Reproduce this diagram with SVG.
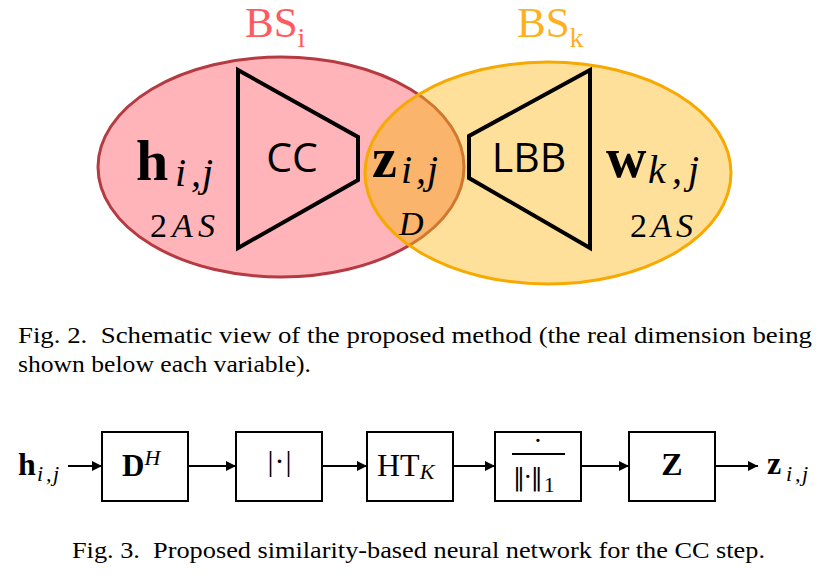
<svg xmlns="http://www.w3.org/2000/svg" width="832" height="586" viewBox="0 0 832 586">
<style>
.serif{font-family:"Liberation Serif","Times New Roman",serif;fill:#000}
.it{font-style:italic}
.bd{font-weight:bold}
.sans{font-family:"Open Sans","DejaVu Sans",sans-serif;fill:#000}
.trap{fill:none;stroke:#000;stroke-width:4;stroke-linejoin:miter}
.box{fill:#fff;stroke:#000;stroke-width:2}
.conn{stroke:#000;stroke-width:2;fill:none}
.cap{font-family:"Liberation Serif","Times New Roman",serif;font-size:24px;fill:#000;white-space:pre}
</style>
<defs>
<clipPath id="clipY"><ellipse cx="548" cy="173" rx="183" ry="111"/></clipPath>
<marker id="arr" markerUnits="userSpaceOnUse" markerWidth="10" markerHeight="10" refX="10" refY="5" orient="auto"><path d="M0,0 L10,5 L0,10 z" fill="#000"/></marker>
</defs>
<rect width="832" height="586" fill="#fff"/>

<g id="bs-i">
<ellipse cx="281" cy="167" rx="183" ry="110" fill="#ffb4b9" stroke="#b53a41" stroke-width="3"/>
<text class="serif" x="245" y="37" font-size="43" style="fill:#ff5a60">BS<tspan font-size="28" dy="10">i</tspan></text>
</g>
<g id="bs-k">
<ellipse cx="548" cy="173" rx="183" ry="111" fill="#ffe09b"/>
<g clip-path="url(#clipY)">
<ellipse cx="281" cy="167" rx="183" ry="110" fill="#fab46b"/>
<ellipse cx="281" cy="167" rx="183" ry="110" fill="none" stroke="#d2772e" stroke-width="3"/>
</g>
<ellipse cx="548" cy="173" rx="183" ry="111" fill="none" stroke="#f7a900" stroke-width="3"/>
<text class="serif" x="517" y="37" font-size="43" style="fill:#ffb01e">BS<tspan font-size="28" dy="10">k</tspan></text>
</g>

<g id="cc">
<path class="trap" d="M238,70 L358,137 L358,180 L238,248 Z"/>
<text class="sans" x="292" y="172" font-size="41" text-anchor="middle">CC</text>
</g>
<g id="lbb">
<path class="trap" d="M590,70 L469,136 L469,178 L590,248 Z"/>
<text class="sans" x="529" y="172" font-size="41" text-anchor="middle">LBB</text>
</g>

<g id="var-h">
<text class="serif bd" x="136" y="180" font-size="58">h</text>
<text class="serif it" y="186" font-size="40"><tspan x="175">i</tspan><tspan x="191">,</tspan><tspan x="202">j</tspan></text>
<text class="serif" x="150" y="237" font-size="34" textLength="65" lengthAdjust="spacing">2<tspan class="it">AS</tspan></text>
</g>
<g id="var-z">
<text class="serif bd" x="372" y="177" font-size="56">z</text>
<text class="serif it" y="183" font-size="40"><tspan x="401">i</tspan><tspan x="416">,</tspan><tspan x="427">j</tspan></text>
<text class="serif it" x="399" y="235" font-size="34">D</text>
</g>
<g id="var-w">
<text class="serif bd" x="606" y="177" font-size="56">w</text>
<text class="serif it" y="183" font-size="40"><tspan x="648">k</tspan><tspan x="672">,</tspan><tspan x="688">j</tspan></text>
<text class="serif" x="630" y="237" font-size="34" textLength="63" lengthAdjust="spacing">2<tspan class="it">AS</tspan></text>
</g>

<g id="caption-2">
<text class="cap" x="18" y="343" textLength="794" lengthAdjust="spacingAndGlyphs">Fig. 2.  Schematic view of the proposed method (the real dimension being</text>
<text class="cap" x="18" y="372" textLength="293" lengthAdjust="spacingAndGlyphs">shown below each variable).</text>
</g>

<g id="in-h">
<text class="serif bd" x="18" y="475" font-size="32">h</text>
<text class="serif it" y="481" font-size="22"><tspan x="37">i</tspan><tspan x="46">,</tspan><tspan x="53">j</tspan></text>
</g>
<g id="box-dh">
<rect class="box" x="102" y="432" width="86" height="69"/>
<text class="serif bd" x="122" y="476" font-size="31">D<tspan class="it" font-weight="normal" font-size="22" dy="-11">H</tspan></text>
</g>
<g id="box-abs">
<rect class="box" x="236" y="432" width="86" height="69"/>
<text class="serif" x="280" y="471" font-size="30" text-anchor="middle" letter-spacing="1">|·|</text>
</g>
<g id="box-ht">
<rect class="box" x="367" y="432" width="86" height="69"/>
<text class="serif" x="377" y="476" font-size="32">HT<tspan class="it" font-size="22" dy="3">K</tspan></text>
</g>
<g id="box-norm">
<rect class="box" x="495" y="432" width="86" height="69"/>
<text class="serif" x="538" y="450" font-size="28" text-anchor="middle">·</text>
<line x1="512" y1="454" x2="565" y2="454" stroke="#000" stroke-width="2"/>
<text class="serif" x="513" y="485" font-size="24" letter-spacing="-1" style="font-family:'DejaVu Serif',serif">‖·‖<tspan font-family="Liberation Serif" font-size="22" letter-spacing="0" dx="2" dy="7">1</tspan></text>
</g>
<g id="box-z">
<rect class="box" x="629" y="432" width="86" height="69"/>
<text class="serif bd" x="672" y="475" font-size="32" text-anchor="middle">Z</text>
</g>
<g id="out-z">
<text class="serif bd" x="767" y="474" font-size="32">z</text>
<text class="serif it" y="481" font-size="22"><tspan x="786">i</tspan><tspan x="795">,</tspan><tspan x="802">j</tspan></text>
</g>

<g id="connectors">
<line class="conn" x1="68" y1="466" x2="102" y2="466" marker-end="url(#arr)"/>
<line class="conn" x1="188" y1="466" x2="236" y2="466" marker-end="url(#arr)"/>
<line class="conn" x1="322" y1="466" x2="367" y2="466" marker-end="url(#arr)"/>
<line class="conn" x1="453" y1="466" x2="495" y2="466" marker-end="url(#arr)"/>
<line class="conn" x1="581" y1="466" x2="629" y2="466" marker-end="url(#arr)"/>
<line class="conn" x1="715" y1="466" x2="758" y2="466" marker-end="url(#arr)"/>
</g>

<g id="caption-3">
<text class="cap" x="72" y="558" textLength="693" lengthAdjust="spacingAndGlyphs">Fig. 3.  Proposed similarity-based neural network for the CC step.</text>
</g>
</svg>
